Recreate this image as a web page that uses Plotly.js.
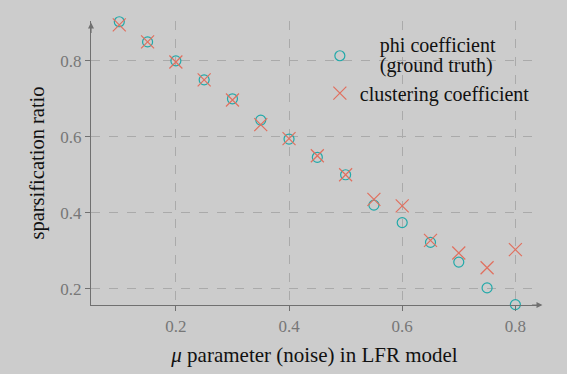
<!DOCTYPE html>
<html>
<head>
<meta charset="utf-8">
<script src="https://cdn.plot.ly/plotly-3.0.1.min.js"></script>
<style>html,body{margin:0;padding:0;background:#cccccc;}#chart{width:567px;height:374px;}</style>
</head>
<body>
<div id="chart"></div>
<script>
const muValues = [0.10, 0.15, 0.20, 0.25, 0.30, 0.35, 0.40, 0.45, 0.50, 0.55, 0.60, 0.65, 0.70, 0.75, 0.80];
const phiCoefficient = [0.903, 0.850, 0.800, 0.750, 0.700, 0.644, 0.594, 0.546, 0.500, 0.420, 0.374, 0.322, 0.270, 0.202, 0.158];
const clusteringCoefficient = [0.895, 0.850, 0.797, 0.750, 0.697, 0.632, 0.595, 0.550, 0.500, 0.435, 0.418, 0.327, 0.294, 0.255, 0.303];
const xTicks = [0.2, 0.4, 0.6, 0.8];
const xTickLabels = ["0.2", "0.4", "0.6", "0.8"];
const yTicks = [0.2, 0.4, 0.6, 0.8];
const yTickLabels = ["0.2", "0.4", "0.6", "0.8"];
const seriesNames = ["phi coefficient", "(ground truth)", "clustering coefficient"];

const serif = "Liberation Serif, DejaVu Serif, serif";
const axisCol = "#707070";
const bg = "#cccccc";
const legendFont = {family: serif, size: 20, color: "#111"};
const pad = "&nbsp;&nbsp;&nbsp;&nbsp;";
const phiLegendName = '<span style="font-size:20px">' + pad + seriesNames[0] + '</span><br>' +
                      '<span style="font-size:20px">' + pad + seriesNames[1] + '</span>';

const traces = [
  {x: muValues, y: phiCoefficient, type: "scatter", mode: "markers", name: phiLegendName, legend: "legend",
   marker: {symbol: "circle-open", size: 10, color: "#22a9a9", line: {width: 1.2, color: "#22a9a9"}}, cliponaxis: false},
  {x: muValues, y: clusteringCoefficient, type: "scatter", mode: "markers", name: seriesNames[2], legend: "legend2",
   marker: {symbol: "x-thin-open", size: 13, color: "#e0705f", line: {width: 1.2, color: "#e0705f"}}, cliponaxis: false}
];

const layout = {
  width: 567, height: 374,
  paper_bgcolor: bg, plot_bgcolor: bg,
  margin: {l: 91, r: 29, t: 21, b: 69},
  showlegend: true,
  legend: {x: 0.512, y: 0.971, xanchor: "left", yanchor: "top", bgcolor: "rgba(0,0,0,0)",
           font: {family: serif, size: 15.4, color: "#111"}, itemwidth: 30},
  legend2: {x: 0.512, y: 0.8145, xanchor: "left", yanchor: "top", bgcolor: "rgba(0,0,0,0)",
           font: legendFont, itemwidth: 30},
  shapes: [
    {type: "rect", xref: "paper", yref: "paper", x0: 0.507, x1: 1.02, y0: 0.676, y1: 0.979,
     fillcolor: bg, line: {width: 0}, layer: "between"}
  ],
  xaxis: {range: [0.05, 0.84], tickvals: xTicks, ticktext: xTickLabels,
          showgrid: true, gridcolor: "#aaaaaa", griddash: "dash", gridwidth: 1,
          zeroline: false, showline: true, linecolor: axisCol, linewidth: 1.2,
          ticks: "outside", ticklen: 5, tickcolor: axisCol,
          tickfont: {family: serif, size: 17, color: "#777"},
          title: {text: "<i>μ</i> parameter (noise) in LFR model", font: {family: serif, size: 21, color: "#111"}, standoff: 12}},
  yaxis: {range: [0.157, 0.905], tickvals: yTicks, ticktext: yTickLabels,
          showgrid: true, gridcolor: "#aaaaaa", griddash: "dash", gridwidth: 1,
          zeroline: false, showline: true, linecolor: axisCol, linewidth: 1.2,
          ticks: "outside", ticklen: 5, tickcolor: axisCol,
          tickfont: {family: serif, size: 17, color: "#777"},
          title: {text: "sparsification ratio", font: {family: serif, size: 20.5, color: "#111"}, standoff: 10}},
  annotations: [
    {xref: "paper", yref: "paper", x: 1.01, y: 0, ax: -12, ay: 0, axref: "pixel", ayref: "pixel",
     text: "", showarrow: true, arrowhead: 2, arrowsize: 1, arrowwidth: 1.2, arrowcolor: axisCol},
    {xref: "paper", yref: "paper", x: 0, y: 0.995, ax: 0, ay: 12, axref: "pixel", ayref: "pixel",
     text: "", showarrow: true, arrowhead: 2, arrowsize: 1, arrowwidth: 1.2, arrowcolor: axisCol}
  ]
};

Plotly.newPlot("chart", traces, layout, {displayModeBar: false, staticPlot: true});
</script>
</body>
</html>
